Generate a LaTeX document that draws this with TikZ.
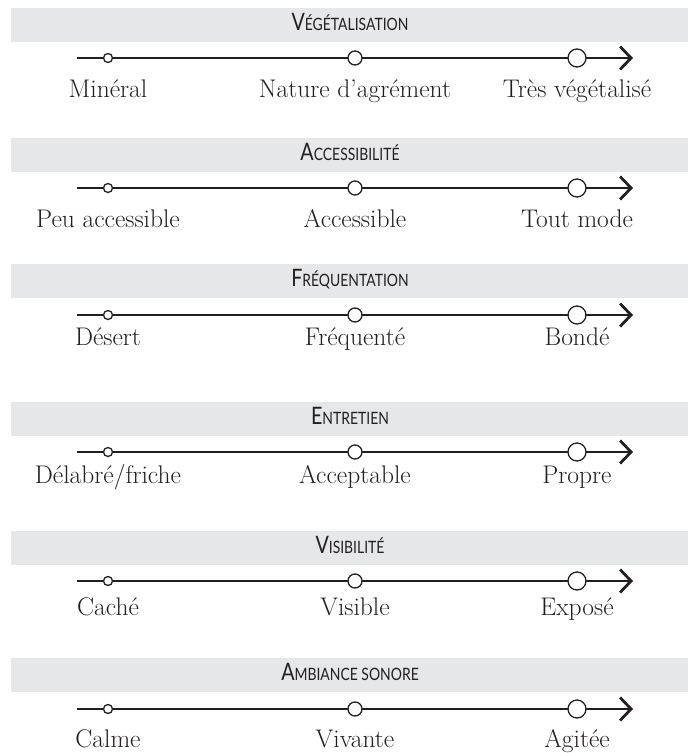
\documentclass[tikz,border=0pt]{standalone}
\usepackage{fontspec}
\usepackage{graphicx}
\usetikzlibrary{arrows.meta}
\newfontfamily\titlefont{Lato}
\definecolor{bandgray}{RGB}{230,231,232}
\definecolor{ink}{RGB}{35,31,32}
\newcommand\smc[2]{\scalebox{0.82}[1]{\titlefont{\fontsize{24}{24}\selectfont #1}{\fontsize{17}{17}\selectfont #2}}}
\tikzset{
  bandbox/.style={rectangle, fill=bandgray, inner sep=0pt, minimum width=677pt, minimum height=34pt},
  titletext/.style={anchor=base, inner sep=0pt, text=ink},
  axisline/.style={draw=ink, line width=2.8pt, -{Straight Barb[length=11pt,width=23pt]}},
  dotbase/.style={circle, draw=ink, fill=white, line width=1.3pt, inner sep=0pt},
  dotA/.style={dotbase, minimum size=9pt},
  dotB/.style={dotbase, minimum size=14pt},
  dotC/.style={dotbase, minimum size=18pt},
  lbl/.style={anchor=base, inner sep=0pt, text=ink, font=\fontsize{25.5}{25.5}\selectfont}
}
\newcommand\drawaxis[9]{%
  \node[bandbox] (band#1) at (349.5,{#2+17}) {};
  \node[titletext] (title#1) at (350,{#2+22}) {\smc{#5}{#6}};
  \coordinate (s#1) at (77,#3);
  \coordinate (e#1) at (633,#3);
  \draw[axisline] (s#1) -- (e#1);
  \node[dotA] (a#1) at (108,#3) {};
  \node[dotB] (b#1) at (355,#3) {};
  \node[dotC] (c#1) at (577,#3) {};
  \node[lbl] (la#1) at (108,#4) {#7};
  \node[lbl] (lb#1) at (355,#4) {#8};
  \node[lbl] (lc#1) at (577,#4) {#9};
}
\begin{document}
\begin{tikzpicture}[x=1pt,y=-1pt]
\useasboundingbox (0,0) rectangle (688,753);
\drawaxis{1}{8}{58}{97}{V}{ÉGÉTALISATION}{Minéral}{Nature d’agrément}{Très végétalisé}
\drawaxis{2}{138}{188}{227}{A}{CCESSIBILITÉ}{Peu accessible}{Accessible}{Tout mode}
\drawaxis{3}{264}{315}{345}{F}{RÉQUENTATION}{Désert}{Fréquenté}{Bondé}
\drawaxis{4}{402}{452}{483}{E}{NTRETIEN}{Délabré/friche}{Acceptable}{Propre}
\drawaxis{5}{531}{581}{615}{V}{ISIBILITÉ}{Caché}{Visible}{Exposé}
\drawaxis{6}{658}{709}{747}{A}{MBIANCE SONORE}{Calme}{Vivante}{Agitée}
\end{tikzpicture}
\end{document}
